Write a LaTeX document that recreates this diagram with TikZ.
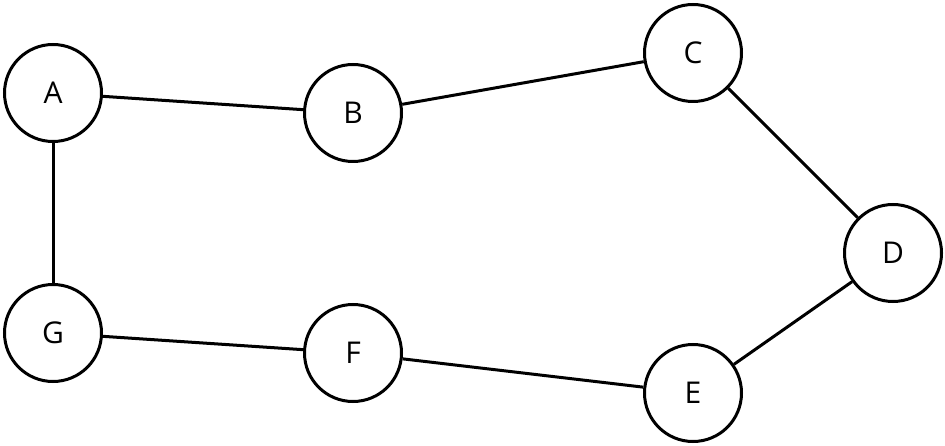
\documentclass[tikz,border=0pt]{standalone}
\usepackage{fontspec}
\setmainfont{Open Sans}
\begin{document}
\begin{tikzpicture}
  [x=1pt,y=-1pt,
   place/.style={draw, circle, line width=3pt, inner sep=0pt,
    minimum size=97pt, font=\fontsize{30}{32}\selectfont},
   link/.style={line width=3pt}]
  \useasboundingbox (0,0) rectangle (945,446);

  \node[place] (A) at (53,93) {\raisebox{-4pt}{A}};
  \node[place] (B) at (353,113) {\raisebox{-4pt}{B}};
  \node[place] (C) at (693,53) {\raisebox{-4pt}{C}};
  \node[place] (D) at (893,253) {\raisebox{-4pt}{D}};
  \node[place] (E) at (693,393) {\raisebox{-4pt}{E}};
  \node[place] (F) at (353,353) {\raisebox{-4pt}{F}};
  \node[place] (G) at (53,333) {\raisebox{-4pt}{G}};

  \foreach \a/\b in {A/B, B/C, C/D, D/E, E/F, F/G, G/A}
    \draw[link] (\a) -- (\b);
\end{tikzpicture}
\end{document}
